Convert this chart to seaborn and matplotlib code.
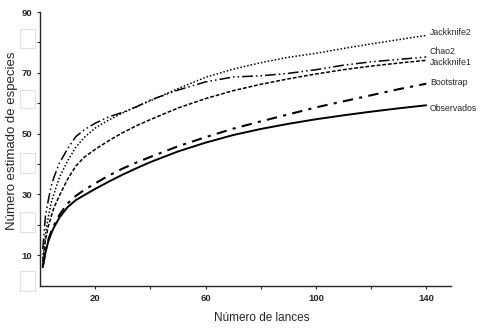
import numpy as np
import pandas as pd
import matplotlib
matplotlib.use("Agg")
import matplotlib.pyplot as plt
import seaborn as sns
from matplotlib.patches import Rectangle

lances = [1, 2, 3, 4, 5, 7, 10, 13, 16, 20, 25, 30, 35, 40, 50, 60, 70, 80, 90, 100, 110, 120, 130, 140]
observados = [6, 11, 14.5, 17, 19, 22.3, 25.8, 28.1, 29.7, 31.8, 34.2, 36.5, 38.6, 40.6, 44.1, 47, 49.5, 51.5, 53.2, 54.7, 56, 57.2, 58.3, 59.3]
bootstrap = [6.3, 11.3, 15, 17.6, 19.7, 23.2, 27, 29.5, 31.4, 33.6, 36.2, 38.5, 40.5, 42.3, 45.8, 48.8, 51.6, 54, 56.3, 58.6, 60.6, 62.6, 64.6, 66.4]
jackknife1 = [8, 15, 19.5, 22.5, 25.5, 29.5, 35, 39.3, 42.2, 44.8, 47.7, 50.3, 52.6, 54.6, 58.4, 61.5, 64.1, 66.2, 68, 69.6, 71, 72.2, 73.2, 74.1]
jackknife2 = [9, 17, 22.5, 27, 30, 35.5, 41, 45.5, 48.7, 51.8, 54.5, 56.8, 58.9, 60.8, 64.8, 68.5, 71.2, 73.3, 75.1, 76.4, 78, 79.5, 80.9, 82.3]
chao2 = [12, 23, 28, 32.5, 35.5, 40.2, 45, 49, 51.2, 53.4, 55.5, 57, 58.8, 61, 64.3, 67, 68.6, 69, 69.8, 71, 72.5, 73.6, 74.4, 75.2]

series_names = ["Jackknife2", "Chao2", "Jackknife1", "Bootstrap", "Observados"]
series_values = [jackknife2, chao2, jackknife1, bootstrap, observados]
label_y = [83.4, 77.1, 73.5, 66.9, 58.4]
x_major = [20, 60, 100, 140]
x_minor = [40, 80, 120]
y_major = [10, 30, 50, 70, 90]
y_minor = [20, 40, 60, 80]

sns.set_style("ticks")
plt.rcParams['font.family'] = ['Liberation Sans Narrow', 'Liberation Sans', 'DejaVu Sans']

fig = plt.figure(figsize=(4.8, 3.36), dpi=100)
ax = fig.add_axes([40/480, 1 - 285.5/336, (451 - 40)/480, (285.5 - 12)/336])

styles = {
    "Observados": dict(linestyle="-", linewidth=1.4),
    "Bootstrap": dict(linestyle=(0, (5, 3, 1.5, 3)), linewidth=1.5),
    "Jackknife1": dict(linestyle=(0, (2.5, 1.2)), linewidth=1.1),
    "Jackknife2": dict(linestyle=(0, (1, 1.3)), linewidth=1.1),
    "Chao2": dict(linestyle=(0, (7, 2, 1, 2, 1, 2)), linewidth=1.1),
}

for name, vals, ly in zip(series_names, series_values, label_y):
    df = pd.DataFrame({"x": lances, "y": vals})
    sns.lineplot(data=df, x="x", y="y", ax=ax, color="black", **styles[name])
    ax.text(141.3, ly, name, fontsize=6.3, va="center", ha="left", clip_on=False)

ax.set_xlim(0, 149)
ax.set_ylim(0, 90)
ax.set_xticks(x_major)
ax.set_xticks(x_minor, minor=True)
ax.set_yticks(y_major)
ax.set_yticks(y_minor, minor=True)
ax.set_xticklabels([str(v) for v in x_major], fontweight="bold", fontsize=6.8)
ax.set_yticklabels([str(v) for v in y_major], fontweight="bold", fontsize=6.8)
ax.tick_params(which="both", length=2.2, width=0.8, direction="out")
ax.tick_params(axis="x", which="both", pad=4)
ax.tick_params(axis="y", which="both", pad=3.5)
for s in ["top", "right"]:
    ax.spines[s].set_visible(False)
for s in ["left", "bottom"]:
    ax.spines[s].set_linewidth(1.0)

ax.set_xlabel("")
ax.set_ylabel("")
fig.text(262/480, 1 - 318/336, "Número de lances", ha="center", va="center", fontsize=8.5)
fig.text(12/480, 1 - 141/336, "Número estimado de especies", ha="center", va="center",
         rotation=90, fontsize=9.5)

for y0, y1 in [(29, 48), (90, 108), (153, 173), (212, 232), (271, 291)]:
    fig.patches.append(Rectangle((20/480, 1 - y1/336), 15/480, (y1 - y0)/336,
                                 transform=fig.transFigure, facecolor="white",
                                 edgecolor="#e2e2e2", linewidth=0.8))

fig.savefig("out.png", dpi=100)
